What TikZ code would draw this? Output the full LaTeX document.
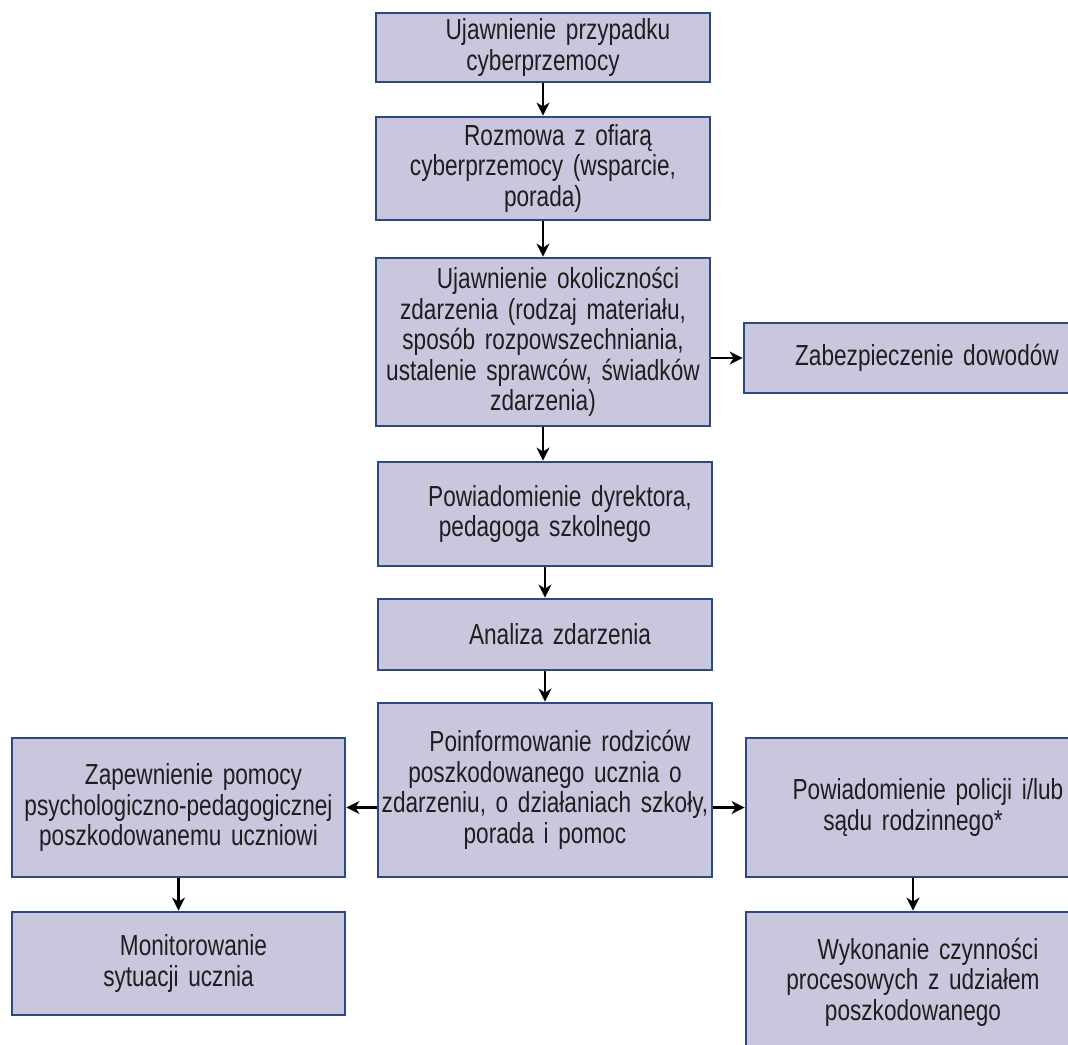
\documentclass[tikz,border=0pt]{standalone}
\usepackage{fontspec}
\setmainfont{Liberation Sans}[FakeStretch=0.78]
\usetikzlibrary{arrows.meta}
\definecolor{boxfill}{HTML}{C9C7DE}
\definecolor{boxline}{HTML}{2A4A80}
\definecolor{txt}{HTML}{1E1E1E}
\newcommand\ind{\hspace*{30pt}}
\begin{document}
\begin{tikzpicture}[x=1pt,y=-1pt,
  box/.style={draw=boxline, line width=2.8pt, fill=boxfill, inner sep=0pt,
    align=center, text=txt, font=\fontsize{29}{30.5}\selectfont},
  arr/.style={draw=black, line width=2.2pt, -{Stealth[length=13pt,width=13pt,inset=4pt]}}]
\useasboundingbox (0,0) rectangle (1068,1044);
\clip (0,0) rectangle (1068,1044);
\fill[white] (0,0) rectangle (1068,1044);

\node[box, minimum width=334pt, minimum height=69pt, text width=330pt] (b1) at (543,47.5)
  {\ind Ujawnienie przypadku\\cyberprzemocy};
\node[box, minimum width=334pt, minimum height=103pt, text width=330pt] (b2) at (543,168.5)
  {\ind Rozmowa z ofiarą\\cyberprzemocy (wsparcie,\\porada)};
\node[box, minimum width=334pt, minimum height=168pt, text width=330pt] (b3) at (543,342)
  {\ind Ujawnienie okoliczności\\zdarzenia (rodzaj materiału,\\sposób rozpowszechniania,\\ustalenie sprawców, świadków\\zdarzenia)};
\node[box, minimum width=336pt, minimum height=70pt, text width=330pt] (zab) at (912,358)
  {\ind Zabezpieczenie dowodów};
\node[box, minimum width=334pt, minimum height=104pt, text width=330pt] (b4) at (545,514)
  {\ind Powiadomienie dyrektora,\\pedagoga szkolnego};
\node[box, minimum width=334pt, minimum height=71pt, text width=330pt] (b5) at (545,634.5)
  {\ind Analiza zdarzenia};
\node[box, minimum width=334pt, minimum height=174pt, text width=330pt] (b6) at (545,790)
  {\ind Poinformowanie rodziców\\poszkodowanego ucznia o\\zdarzeniu, o działaniach szkoły,\\porada i pomoc};
\node[box, minimum width=333pt, minimum height=139pt, text width=330pt] (left) at (178.5,807.5)
  {\ind Zapewnienie pomocy\\psychologiczno-pedagogicznej\\poszkodowanemu uczniowi};
\node[box, minimum width=334pt, minimum height=139pt, text width=330pt] (right) at (913,807.5)
  {\ind Powiadomienie policji i/lub\\sądu rodzinnego*};
\node[box, minimum width=333pt, minimum height=103pt, text width=330pt] (mon) at (178.5,963.5)
  {\ind Monitorowanie\\sytuacji ucznia};
\node[box, minimum width=334pt, minimum height=140pt, text width=330pt] (wyk) at (913,982)
  {\ind Wykonanie czynności\\procesowych z udziałem\\poszkodowanego};

\draw[arr] (b1.south) -- (b2.north);
\draw[arr] (b2.south) -- (b3.north);
\draw[arr] (b3.east |- zab.west) -- (zab.west);
\draw[arr] (b3.south) -- (b3.south |- b4.north);
\draw[arr] (b4.south) -- (b5.north);
\draw[arr] (b5.south) -- (b6.north);
\draw[arr] (b6.west |- left.east) -- (left.east);
\draw[arr] (b6.east |- right.west) -- (right.west);
\draw[arr] (left.south) -- (mon.north);
\draw[arr] (right.south) -- (wyk.north);
\end{tikzpicture}
\end{document}
